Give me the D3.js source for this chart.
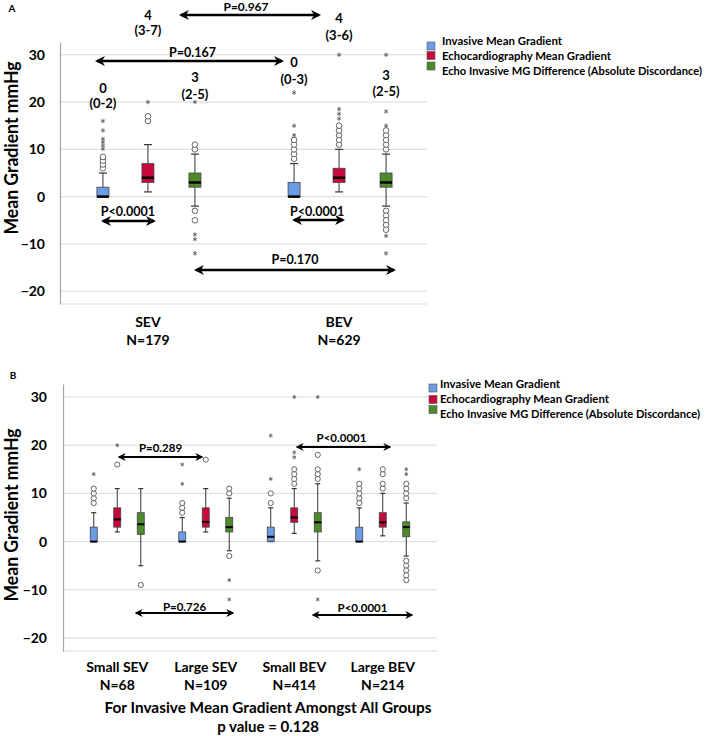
<!DOCTYPE html>
<html><head><meta charset="utf-8">
<script src="https://cdn.jsdelivr.net/npm/d3@7"></script>
<style>body{margin:0;background:#fff}svg{display:block}text{font-family:Lato,"DejaVu Sans",sans-serif;font-weight:bold;fill:#000}</style>
</head><body>
<script>
// ---------- DATA ----------
const seriesNames = ["Invasive Mean Gradient","Echocardiography Mean Gradient","Echo Invasive MG Difference (Absolute Discordance)"];
const yTicks = [-20,-10,0,10,20,30];

// Panel A
const categoriesA = ["SEV","BEV"];
const nLabelsA = ["N=179","N=629"];
// [lower whisker, Q1, median, Q3, upper whisker]
const invasiveA = [[0,0,0,2,5],[0,0,0,3,7]];
const echoA     = [[1,3,4,7,11],[1,3,4,6,10]];
const diffA     = [[-2,2,3,5,9],[-2,2,3,5,9]];
const circlesInvA = [[6,6.8,7.6,8.4],[8,9,10,11,12]];
const circlesEchoA = [[16,17],[11,12,13,14,15]];
const circlesDiffA = [[10,11,-3,-5],[10,11,12,13,14,-3,-4,-5,-6,-7]];
const starsInvA = [[10.1,10.8,11.5,12.2,14,16],[13,15,22]];
const starsEchoA = [[20],[16.5,17.5,18.5,30]];
const starsDiffA = [[20,-8,-9,-12],[15,18,30,-8.3,-12]];
const medianLabelsA = [["0","(0-2)"],["4","(3-7)"],["3","(2-5)"],["0","(0-3)"],["4","(3-6)"],["3","(2-5)"]];
const pLabelsA = ["P=0.967","P=0.167","P<0.0001","P<0.0001","P=0.170"];

// Panel B
const categoriesB = ["Small SEV","Large SEV","Small BEV","Large BEV"];
const nLabelsB = ["N=68","N=109","N=414","N=214"];
const invasiveB = [[0,0,0,3,6],[0,0,0,2,5],[0,0,1,3,7],[0,0,0,3,7]];
const echoB     = [[2,3,4.6,7,11],[2,3,4.1,7,11],[1.7,4,5,7,11],[1.2,3,4,6,10]];
const diffB     = [[-5,1.5,3.6,6,11],[-1.9,2,3,5,9],[-4,2,4,6,12],[-3,1,3,4.1,8]];
const circlesInvB = [[8,9,10,11],[6,7,8],[8,10],[8,9,10,11,12]];
const circlesEchoB = [[16],[17],[12,13,14,15],[11,12,14,15]];
const circlesDiffB = [[-9],[10,11,-3],[13,14,15,18,-6],[9,10,11,12,-4,-5,-6,-7,-8]];
const starsInvB = [[14],[12,16],[13,22],[15]];
const starsEchoB = [[20],[],[17.5,18.5,30],[]];
const starsDiffB = [[],[-8,-12],[30,-12],[14,15]];
const pLabelsB = ["P=0.289","P<0.0001","P=0.726","P<0.0001"];
const footnote = ["For Invasive Mean Gradient Amongst All Groups","p value = 0.128"];

const colors = ["#6b9de6","#c8083c","#4d8a2c"];

// ---------- DRAW ----------
const svg = d3.select("body").append("svg").attr("width",709).attr("height",736);
const defs = svg.append("defs");
defs.append("marker").attr("id","ah").attr("viewBox","0 0 10 10").attr("refX",8).attr("refY",5)
  .attr("markerWidth",4).attr("markerHeight",4).attr("orient","auto-start-reverse").attr("markerUnits","strokeWidth")
  .append("path").attr("d","M0,0 L10,5 L0,10 L3,5 Z").attr("fill","#000");

function arrow(g,x1,x2,y,w){
  g.append("line").attr("x1",x1).attr("x2",x2).attr("y1",y).attr("y2",y)
   .attr("stroke","#000").attr("stroke-width",w)
   .attr("marker-start","url(#ah)").attr("marker-end","url(#ah)");
}
function label(g,x,y,t,size,opts={}){
  const e = g.append("text").attr("x",x).attr("y",y).attr("text-anchor",opts.anchor||"middle")
    .style("font-size",size+"px").text(t);
  if(opts.len) e.attr("textLength",opts.len).attr("lengthAdjust","spacingAndGlyphs");
  return e;
}

function panel(o){
  const g = svg.append("g");
  const x = d3.scalePoint().domain(o.cats).range([o.left,o.right]).padding(o.pad);
  const y = d3.scaleLinear().domain([-22.7,32.7]).range([o.bottom,o.top]);
  g.selectAll("line.grid").data(yTicks).join("line").attr("class","grid")
    .attr("x1",o.left).attr("x2",o.right).attr("y1",d=>y(d)).attr("y2",d=>y(d))
    .attr("stroke","#d9d9d9").attr("stroke-width",1);
  g.append("line").attr("x1",o.left).attr("x2",o.right).attr("y1",o.bottom).attr("y2",o.bottom)
    .attr("stroke","#d9d9d9").attr("stroke-width",1.2);
  const ax = g.append("g").attr("transform",`translate(${o.left},0)`)
    .call(d3.axisLeft(y).tickValues(yTicks).tickSize(0).tickPadding(o.tickPad));
  ax.select(".domain").attr("stroke","#a6a6a6").attr("stroke-width",1.2);
  ax.selectAll("text").style("font-size","14px").style("font-family","Lato, sans-serif").style("font-weight","bold").attr("fill","#000");

  const sym = d3.symbol(d3.symbolAsterisk, o.starSize);
  o.series.forEach((s,si)=>{
    o.cats.forEach((c,ci)=>{
      const cx = x(c)+o.offsets[si];
      const [lo,q1,md,q3,hi] = s.stats[ci];
      const sg = g.append("g");
      sg.append("line").attr("x1",cx).attr("x2",cx).attr("y1",y(hi)).attr("y2",y(q3)).attr("stroke","#333").attr("stroke-width",1);
      sg.append("line").attr("x1",cx).attr("x2",cx).attr("y1",y(q1)).attr("y2",y(lo)).attr("stroke","#333").attr("stroke-width",1);
      [lo,hi].forEach(v=>sg.append("line").attr("x1",cx-o.capW/2).attr("x2",cx+o.capW/2).attr("y1",y(v)).attr("y2",y(v)).attr("stroke","#333").attr("stroke-width",1.2));
      sg.append("rect").attr("x",cx-o.boxW/2).attr("y",y(q3)).attr("width",o.boxW).attr("height",Math.max(y(q1)-y(q3),0.5))
        .attr("fill",colors[si]).attr("stroke","#444").attr("stroke-width",0.8);
      sg.append("line").attr("x1",cx-o.boxW/2).attr("x2",cx+o.boxW/2).attr("y1",y(md)).attr("y2",y(md)).attr("stroke","#000").attr("stroke-width",o.medW);
      sg.selectAll("circle").data(s.circles[ci]).join("circle").attr("cx",cx).attr("cy",d=>y(d)).attr("r",o.r)
        .attr("fill","#fff").attr("stroke","#555").attr("stroke-width",0.9);
      sg.selectAll("path.star").data(s.stars[ci]).join("path").attr("class","star")
        .attr("d",sym).attr("transform",d=>`translate(${cx},${y(d)})`).attr("stroke","#555").attr("stroke-width",0.8).attr("fill","none");
    });
  });
  // category labels
  o.cats.forEach((c,ci)=>{
    label(g,x(c),o.xl1,c,14);
    label(g,x(c),o.xl2,o.nLabels[ci],14);
  });
  // y title
  g.append("text").attr("transform",`translate(${o.titleX},${o.titleY}) rotate(-90)`).attr("text-anchor","middle")
    .attr("dy","0.35em").style("font-size","18px").attr("textLength",173).attr("lengthAdjust","spacingAndGlyphs").text("Mean Gradient mmHg");
  // legend
  seriesNames.forEach((n,i)=>{
    g.append("rect").attr("x",o.legX).attr("y",o.legSq[i]-4).attr("width",8).attr("height",8)
      .attr("fill",colors[i]).attr("stroke","#555").attr("stroke-width",0.6);
    label(g,o.legTX,o.legT[i],n,10.6,{anchor:"start",len:o.legLen[i]});
  });
  return {g,x,y};
}

// Panel A
const A = panel({
  cats:categoriesA, nLabels:nLabelsA, left:60, right:427, top:42, bottom:304, pad:0.46,
  offsets:[-45,0,47], boxW:12, capW:8, medW:2.5, r:2.8, starSize:14, tickPad:15,
  series:[{stats:invasiveA,circles:circlesInvA,stars:starsInvA},{stats:echoA,circles:circlesEchoA,stars:starsEchoA},{stats:diffA,circles:circlesDiffA,stars:starsDiffA}],
  xl1:327, xl2:345, titleX:12, titleY:148,
  legX:427, legSq:[46,55.5,66], legTX:442, legT:[45,60,75], legLen:[120,169,260]
});
svg.append("text").attr("x",12).attr("y",12).attr("text-anchor","middle").style("font-size","10px").text("A");
{
  const g=A.g, x=A.x;
  const c0=x("SEV"), c1=x("BEV");
  // median (IQR) labels
  const pos = [[c0-45,92.5,107.5],[c0,19.5,35],[c0+47,81.5,98.5],[c1-45,66.5,83.5],[c1,22.5,39.5],[c1+47,79.5,95.5]];
  medianLabelsA.forEach((m,i)=>{ label(g,pos[i][0],pos[i][1],m[0],13); label(g,pos[i][0],pos[i][2],m[1],13); });
  arrow(g,c0+33,c1-20,15,2.5);   label(g,(c0+33+c1-20)/2-4,11,pLabelsA[0],12);
  arrow(g,c0-51,c1-57,61,2.5);   label(g,(c0-51+c1-57)/2+3,56.5,pLabelsA[1],12.5);
  arrow(g,c0-45,c0+6,221,2.5);   label(g,c0-20,215.5,pLabelsA[2],12.5);
  arrow(g,c1-45,c1+4,220,2.5);   label(g,c1-22,215.5,pLabelsA[3],12.5);
  arrow(g,c0+48,c1+55,270,2.5);  label(g,(c0+48+c1+55)/2,263.5,pLabelsA[4],12.5);
}

// Panel B
const B = panel({
  cats:categoriesB, nLabels:nLabelsB, left:63, right:437, top:384, bottom:651, pad:0.613,
  offsets:[-23.5,0,23.5], boxW:7, capW:5, medW:2, r:2.6, starSize:12, tickPad:16,
  series:[{stats:invasiveB,circles:circlesInvB,stars:starsInvB},{stats:echoB,circles:circlesEchoB,stars:starsEchoB},{stats:diffB,circles:circlesDiffB,stars:starsDiffB}],
  xl1:672, xl2:690, titleX:12, titleY:515,
  legX:429, legSq:[388,399.5,409.5], legTX:440, legT:[388,403,418], legLen:[120,169,260]
});
svg.append("text").attr("x",13).attr("y",379).attr("text-anchor","middle").style("font-size","10px").text("B");
{
  const g=B.g, x=B.x;
  const c=categoriesB.map(d=>x(d));
  arrow(g,c[0]+2,c[1]-4,457,2); label(g,(c[0]+2+c[1]-4)/2,452,pLabelsB[0],11.5);
  arrow(g,c[2]+3,c[3]+7,447,2); label(g,(c[2]+3+c[3]+7)/2-2,442,pLabelsB[1],11.5);
  arrow(g,c[0]+19,c[1]+27,613,2); label(g,(c[0]+19+c[1]+27)/2,611,pLabelsB[2],11.5);
  arrow(g,c[2]+19,c[3]+29,615,2); label(g,(c[2]+19+c[3]+29)/2,612,pLabelsB[3],11.5);
  label(g,268,713,footnote[0],15,{len:327});
  label(g,268,732,footnote[1],15);
}
</script>
</body></html>
